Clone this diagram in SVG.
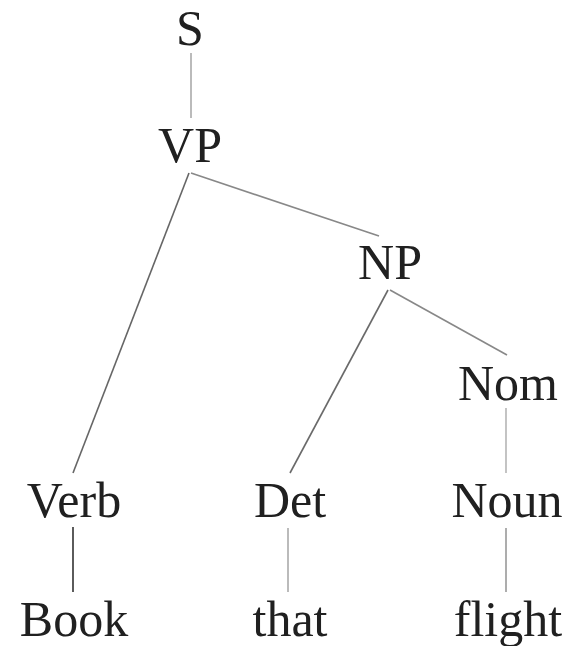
<svg xmlns="http://www.w3.org/2000/svg" width="577" height="646" viewBox="0 0 577 646">
  <style>
    .lbl { font-family: "Liberation Serif", "Times New Roman", serif; font-size: 50px; fill: #202020; text-anchor: middle; }
    .edge { stroke-width: 1.6; fill: none; stroke-linecap: butt; }
  </style>
  <rect width="577" height="646" fill="#ffffff"/>

  <!-- tree branches -->
  <g id="connectors">
    <line class="edge" x1="191" y1="53" x2="191" y2="118" stroke="#aaaaaa"/>
    <line class="edge" x1="189" y1="173" x2="73" y2="473" stroke="#666666"/>
    <line class="edge" x1="191" y1="173" x2="379" y2="236" stroke="#888888"/>
    <line class="edge" x1="388" y1="290" x2="290" y2="473" stroke="#6a6a6a"/>
    <line class="edge" x1="390" y1="290" x2="507" y2="355" stroke="#888888"/>
    <line class="edge" x1="506" y1="408" x2="506" y2="473" stroke="#b5b5b5"/>
    <line class="edge" x1="73" y1="527" x2="73" y2="592" stroke="#333333"/>
    <line class="edge" x1="288" y1="528" x2="288" y2="592" stroke="#aaaaaa"/>
    <line class="edge" x1="506" y1="528" x2="506" y2="592" stroke="#999999"/>
  </g>

  <!-- constituent labels -->
  <g id="node-S"><text class="lbl" x="190" y="45">S</text></g>
  <g id="node-VP"><text class="lbl" x="190" y="162">VP</text></g>
  <g id="node-NP"><text class="lbl" x="390" y="279">NP</text></g>
  <g id="node-Nom"><text class="lbl" x="508" y="400">Nom</text></g>
  <g id="node-Verb"><text class="lbl" x="74" y="517">Verb</text></g>
  <g id="node-Det"><text class="lbl" x="290" y="517">Det</text></g>
  <g id="node-Noun"><text class="lbl" x="507" y="517">Noun</text></g>

  <!-- words -->
  <g id="word-Book"><text class="lbl" x="74" y="636">Book</text></g>
  <g id="word-that"><text class="lbl" x="290" y="636">that</text></g>
  <g id="word-flight"><text class="lbl" x="508" y="636">flight</text></g>
</svg>
